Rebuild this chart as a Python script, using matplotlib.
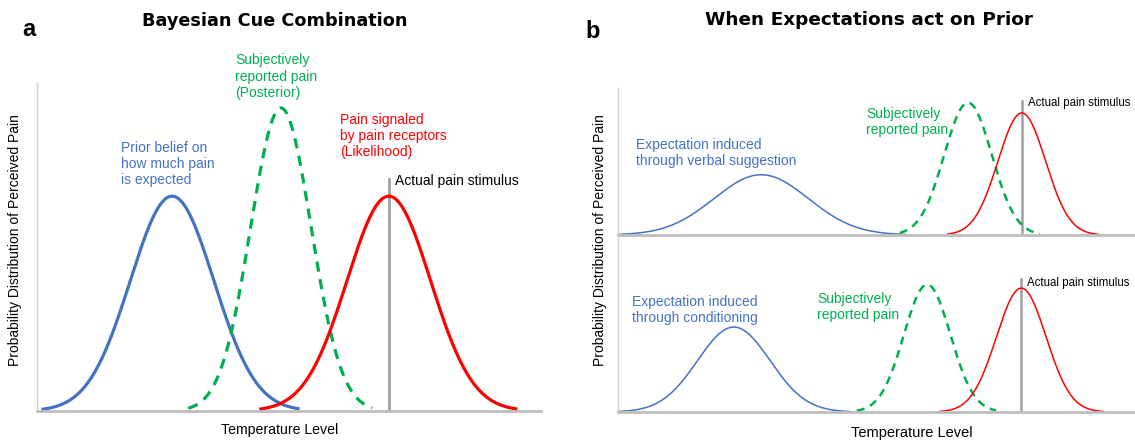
import numpy as np
import matplotlib
matplotlib.use("Agg")
import matplotlib.pyplot as plt

plt.rcParams['font.family'] = ['Liberation Sans', 'DejaVu Sans']

# ---- data (temperature units 0..100, density in relative units) ----
# Panel a: Bayesian cue combination
a_names = ["prior", "posterior", "likelihood"]
a_center = [26.8, 48.4, 69.8]
a_sigma = [8.3, 6.0, 8.3]
a_peak = [0.655, 0.924, 0.655]
a_start = [1.2, 30.0, 44.4]
a_end = [51.8, 66.5, 95.0]
a_stimulus = 69.8
a_stimulus_top = 0.707

# Panel b top: verbal suggestion
bt_center = [27.7, 67.7, 78.1]
bt_sigma = [9.1, 4.6, 4.6]
bt_peak = [0.41, 0.90, 0.83]
bt_start = [0.4, 54.5, 63.8]
bt_end = [55.5, 81.6, 92.8]
bt_stimulus = 78.1
bt_stimulus_top = 0.91

# Panel b bottom: conditioning
bb_center = [22.4, 59.8, 78.0]
bb_sigma = [7.0, 4.5, 4.8]
bb_peak = [0.48, 0.72, 0.70]
bb_start = [0.4, 46.2, 62.3]
bb_end = [44.9, 73.1, 93.8]
bb_stimulus = 78.0
bb_stimulus_top = 0.75

BLUE = "#4472C4"
GREEN = "#00B050"
RED = "#FF0000"
GRAY = "#A0A0A0"
AXGRAY = "#BDBDBD"

W, H = 1135, 440
fig = plt.figure(figsize=(W / 100, H / 100), dpi=100)


def px_axes(x0, y_top, x1, y_bottom):
    return fig.add_axes([x0 / W, (H - y_bottom) / H, (x1 - x0) / W, (y_bottom - y_top) / H])


def style(ax, ymax=1.0):
    ax.set_xlim(0, 100)
    ax.set_ylim(0, ymax)
    ax.set_xticks([])
    ax.set_yticks([])
    for s in ["top", "right"]:
        ax.spines[s].set_visible(False)
    ax.spines["left"].set_color("#D0D0D0")
    ax.spines["left"].set_linewidth(1.0)
    ax.spines["bottom"].set_color(AXGRAY)
    ax.spines["bottom"].set_linewidth(2.0)
    ax.patch.set_alpha(0)


def gauss(ax, c, s, p, x0, x1, color, lw, dashed=False):
    x = np.linspace(x0, x1, 400)
    y = p * np.exp(-0.5 * ((x - c) / s) ** 2)
    if dashed:
        ax.plot(x, y, color=color, lw=lw, dashes=(3.2, 2.4), clip_on=False, solid_capstyle='butt')
    else:
        ax.plot(x, y, color=color, lw=lw, clip_on=False)


# ---------------- Panel a ----------------
axa = px_axes(37, 83, 541, 411)
style(axa)
cols = [BLUE, GREEN, RED]
for i in range(3):
    gauss(axa, a_center[i], a_sigma[i], a_peak[i], a_start[i], a_end[i], cols[i], 2.3, dashed=(i == 1))
axa.plot([a_stimulus, a_stimulus], [0, a_stimulus_top], color=GRAY, lw=2.0, zorder=1)
axa.text(16.7, 0.823, "Prior belief on\nhow much pain\nis expected", color=BLUE, fontsize=10,
         va="top", ha="left", linespacing=1.2)
axa.text(39.3, 1.09, "Subjectively\nreported pain\n(Posterior)", color=GREEN, fontsize=10,
         va="top", ha="left", linespacing=1.2, clip_on=False)
axa.text(60.1, 0.909, "Pain signaled\nby pain receptors\n(Likelihood)", color=RED, fontsize=10,
         va="top", ha="left", linespacing=1.2)
axa.text(71.1, 0.70, "Actual pain stimulus", color="black", fontsize=10, va="center", ha="left")

fig.text(279.5 / W, (H - 430) / H, "Temperature Level", fontsize=10.2, ha="center", va="center")
fig.text(15 / W, (H - 240) / H, "Probability Distribution of Perceived Pain", fontsize=10,
         rotation=90, ha="center", va="center")
fig.text(275 / W, (H - 21) / H, "Bayesian Cue Combination", fontsize=12.7, fontweight="heavy",
         family="DejaVu Sans", ha="center", va="center")
fig.text(22 / W, (H - 30) / H, "a", fontsize=17, fontweight="bold", ha="left", va="center")

# ---------------- Panel b top ----------------
axt = px_axes(618, 88, 1135, 235)
style(axt)
for i in range(3):
    gauss(axt, bt_center[i], bt_sigma[i], bt_peak[i], bt_start[i], bt_end[i], cols[i],
          1.8 if i == 1 else 1.1, dashed=(i == 1))
axt.plot([bt_stimulus, bt_stimulus], [0, bt_stimulus_top], color=GRAY, lw=1.8, zorder=1)
axt.text(3.5, 0.66, "Expectation induced\nthrough verbal suggestion", color=BLUE, fontsize=10,
         va="top", ha="left", linespacing=1.2)
axt.text(48.0, 0.87, "Subjectively\nreported pain", color=GREEN, fontsize=10,
         va="top", ha="left", linespacing=1.2)
axt.text(79.4, 0.895, "Actual pain stimulus", color="black", fontsize=8.3, va="center", ha="left",
         clip_on=False)

# ---------------- Panel b bottom ----------------
axb = px_axes(618, 235, 1135, 412)
style(axb)
for i in range(3):
    gauss(axb, bb_center[i], bb_sigma[i], bb_peak[i], bb_start[i], bb_end[i], cols[i],
          1.8 if i == 1 else 1.1, dashed=(i == 1))
axb.plot([bb_stimulus, bb_stimulus], [0, bb_stimulus_top], color=GRAY, lw=1.8, zorder=1)
axb.text(2.7, 0.66, "Expectation induced\nthrough conditioning", color=BLUE, fontsize=10,
         va="top", ha="left", linespacing=1.2)
axb.text(38.5, 0.68, "Subjectively\nreported pain", color=GREEN, fontsize=10,
         va="top", ha="left", linespacing=1.2)
axb.text(79.2, 0.73, "Actual pain stimulus", color="black", fontsize=8.3, va="center", ha="left",
         clip_on=False)

fig.text(912 / W, (H - 433) / H, "Temperature Level", fontsize=10.5, ha="center", va="center")
fig.text(600 / W, (H - 240) / H, "Probability Distribution of Perceived Pain", fontsize=10,
         rotation=90, ha="center", va="center")
fig.text(869 / W, (H - 20) / H, "When Expectations act on Prior", fontsize=13.3, fontweight="heavy",
         family="DejaVu Sans", ha="center", va="center")
fig.text(585 / W, (H - 31) / H, "b", fontsize=17, fontweight="bold", ha="left", va="center")

fig.savefig("out.png", dpi=100)
